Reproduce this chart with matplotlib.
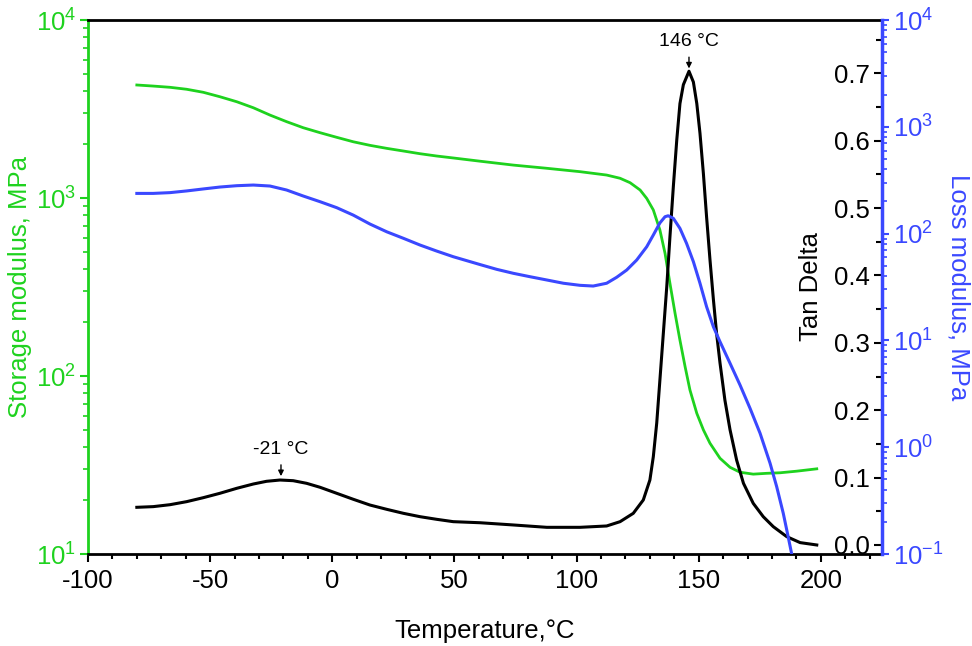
import matplotlib
matplotlib.use("Agg")
import matplotlib.pyplot as plt
from matplotlib.ticker import MultipleLocator, FormatStrFormatter, LogLocator

# data
t_storage = [-80, -73.3, -66.4, -59.6, -52.8, -46, -39.1, -32.3, -25.5, -18.7, -11.9, -5,
             1.8, 8.6, 15.4, 22.3, 29.1, 35.9, 42.7, 49.5, 60.5, 74.1, 87.8, 101.4, 112.3,
             117.8, 121.9, 126, 128.7, 131.4, 134.1, 136.2, 138.2, 140.3, 142.3, 144.4,
             146.4, 149.2, 151.9, 154.6, 158.7, 162.8, 166.9, 172.3, 177.8, 183.3, 190.1, 198.3]
storage = [4315, 4256, 4188, 4083, 3926, 3707, 3475, 3214, 2924, 2685, 2483, 2328,
           2193, 2070, 1977, 1901, 1837, 1774, 1722, 1679, 1610, 1531, 1469, 1406, 1346,
           1291, 1219, 1109, 995, 857, 661, 489, 332, 225, 159, 113,
           83.4, 61.7, 49.8, 41.9, 34.5, 30.7, 28.8, 28.1, 28.4, 28.6, 29.2, 30.1]

t_loss = [-80, -73.3, -66.4, -59.6, -52.8, -46, -39.1, -32.3, -25.5, -18.7, -11.9, -5,
          1.8, 8.6, 15.4, 22.3, 29.1, 35.9, 42.7, 49.5, 60.5, 67.3, 74.1, 80.9, 87.8, 94.6,
          101.4, 106.8, 112.3, 116.4, 120.5, 124.6, 128.7, 131.4, 134.1, 136.2, 137.5,
          139.6, 142.3, 145.0, 147.8, 150.5, 153.2, 156.0, 158.7, 162.8, 166.9, 171.0,
          175.1, 179.2, 181.9, 184.6, 186.6, 188.0]
loss = [238, 238, 242, 251, 262, 273, 281, 285, 279, 256, 225, 199,
        175, 149, 123, 104, 90.4, 78.2, 68.7, 60.8, 51.3, 46.3, 42.5, 39.5, 36.8, 34.3,
        32.8, 32.3, 34.3, 39.0, 45.6, 56.6, 75.3, 97.0, 126, 144, 147,
        139, 112, 81.1, 54.6, 34.3, 20.7, 13.4, 9.72, 6.11, 3.82, 2.31,
        1.35, 0.706, 0.427, 0.240, 0.145, 0.101]

t_tan = [-80, -73.3, -66.4, -59.6, -52.8, -46, -39.1, -32.3, -26.9, -21.4, -16.0, -10.5,
         -5.0, 1.8, 8.6, 15.4, 22.3, 29.1, 35.9, 42.7, 49.5, 60.5, 74.1, 87.8, 101.4, 112.3,
         117.8, 123.2, 127.3, 130.0, 131.4, 132.8, 134.1, 135.5, 136.9, 138.2, 139.6, 141.0,
         142.3, 143.7, 146.0, 147.8, 149.2, 150.5, 151.9, 153.2, 154.6, 156.0, 157.3, 158.7,
         160.7, 162.8, 165.5, 168.3, 172.3, 176.4, 180.5, 186.0, 191.5, 198.3]
tan_delta = [0.0559, 0.0569, 0.0598, 0.0643, 0.0702, 0.0767, 0.0841, 0.0905, 0.0945, 0.0964,
             0.0954, 0.0915, 0.0856, 0.0767, 0.0678, 0.0593, 0.0529, 0.0470, 0.0420, 0.0381,
             0.0346, 0.0330, 0.0297, 0.0262, 0.0262, 0.0282, 0.0346, 0.047, 0.0668, 0.0964,
             0.131, 0.181, 0.245, 0.314, 0.383, 0.457, 0.532, 0.601, 0.655, 0.683, 0.703,
             0.687, 0.655, 0.611, 0.551, 0.487, 0.423, 0.364, 0.314, 0.270, 0.215, 0.171,
             0.126, 0.0915, 0.0618, 0.042, 0.0272, 0.0124, 0.0035, 0.0]

green = '#1ed21e'
blue = '#3a48ff'

plt.rcParams['font.family'] = ['Liberation Sans', 'DejaVu Sans']
plt.rcParams['mathtext.fontset'] = 'custom'
plt.rcParams['mathtext.rm'] = 'Liberation Sans'
plt.rcParams['mathtext.it'] = 'Liberation Sans:italic'
plt.rcParams['axes.unicode_minus'] = False

fs = 18.5

fig = plt.figure(figsize=(9.72, 6.46), dpi=100)
ax = fig.add_axes([0.0905, 0.1424, 0.8169, 0.8266])

# storage modulus
ax.plot(t_storage, storage, color=green, lw=2.0)
ax.set_yscale('log')
ax.set_ylim(10, 1e4)
ax.set_xlim(-100, 225)
ax.xaxis.set_major_locator(MultipleLocator(50))
ax.xaxis.set_minor_locator(MultipleLocator(10))
ax.tick_params(axis='x', which='major', direction='out', length=5.5, width=1.5, labelsize=fs, pad=5)
ax.tick_params(axis='x', which='minor', direction='out', length=3.5, width=1.5)
ax.tick_params(axis='y', which='major', direction='out', length=5.5, width=1.5,
               color=green, labelcolor=green, labelsize=fs, pad=3)
ax.tick_params(axis='y', which='minor', direction='out', length=3.5, width=1.2, color=green)
ax.yaxis.set_minor_locator(LogLocator(base=10, subs=range(2, 10)))
ax.spines['left'].set_color(green)
ax.spines['left'].set_linewidth(2)
ax.spines['bottom'].set_linewidth(2)
ax.spines['top'].set_linewidth(2)
ax.spines['right'].set_visible(False)
ax.set_xlabel('Temperature,°C', fontsize=fs, labelpad=19)
ax.set_ylabel('Storage modulus, MPa', fontsize=fs, color=green, labelpad=3)

# tan delta, ticks and labels inside the right spine
ax2 = ax.twinx()
ax2.plot(t_tan, tan_delta, color='black', lw=2.2)
ax2.set_ylim(-0.0134, 0.779)
for s in ax2.spines.values():
    s.set_visible(False)
ax2.spines['left'].set_position(('axes', 1.0))
ax2.yaxis.set_ticks_position('left')
ax2.yaxis.set_label_position('left')
ax2.yaxis.set_major_locator(MultipleLocator(0.1))
ax2.yaxis.set_minor_locator(MultipleLocator(0.05))
ax2.yaxis.set_major_formatter(FormatStrFormatter('%.1f'))
ax2.tick_params(axis='y', which='major', direction='out', length=5.5, width=1.5, labelsize=fs, pad=3)
ax2.tick_params(axis='y', which='minor', direction='out', length=4, width=1.5)
ax2.set_ylabel('Tan Delta', fontsize=fs, labelpad=8)

ax2.text(146, 0.747, '146 °C', ha='center', va='center', fontsize=14)
ax2.annotate('', xy=(146, 0.703), xytext=(146, 0.728),
             arrowprops=dict(arrowstyle='-|>', color='black', lw=1, mutation_scale=8))
ax2.text(-21, 0.141, '-21 °C', ha='center', va='center', fontsize=14)
ax2.annotate('', xy=(-21, 0.098), xytext=(-21, 0.123),
             arrowprops=dict(arrowstyle='-|>', color='black', lw=1, mutation_scale=8))

# loss modulus
ax3 = ax.twinx()
ax3.plot(t_loss, loss, color=blue, lw=2.2)
ax3.set_yscale('log')
ax3.set_ylim(0.1, 1e4)
for s in ax3.spines.values():
    s.set_visible(False)
ax3.spines['right'].set_visible(True)
ax3.spines['right'].set_color(blue)
ax3.spines['right'].set_linewidth(2.5)
ax3.yaxis.set_minor_locator(LogLocator(base=10, subs=range(2, 10)))
ax3.tick_params(axis='y', which='major', direction='out', length=5, width=1.5,
                color=blue, labelcolor=blue, labelsize=fs, pad=3)
ax3.tick_params(axis='y', which='minor', direction='out', length=3.5, width=1.2, color=blue)
ax3.set_ylabel('Loss modulus, MPa', fontsize=fs, color=blue, rotation=270, va='bottom', labelpad=2)

fig.savefig('out.png', dpi=100)
